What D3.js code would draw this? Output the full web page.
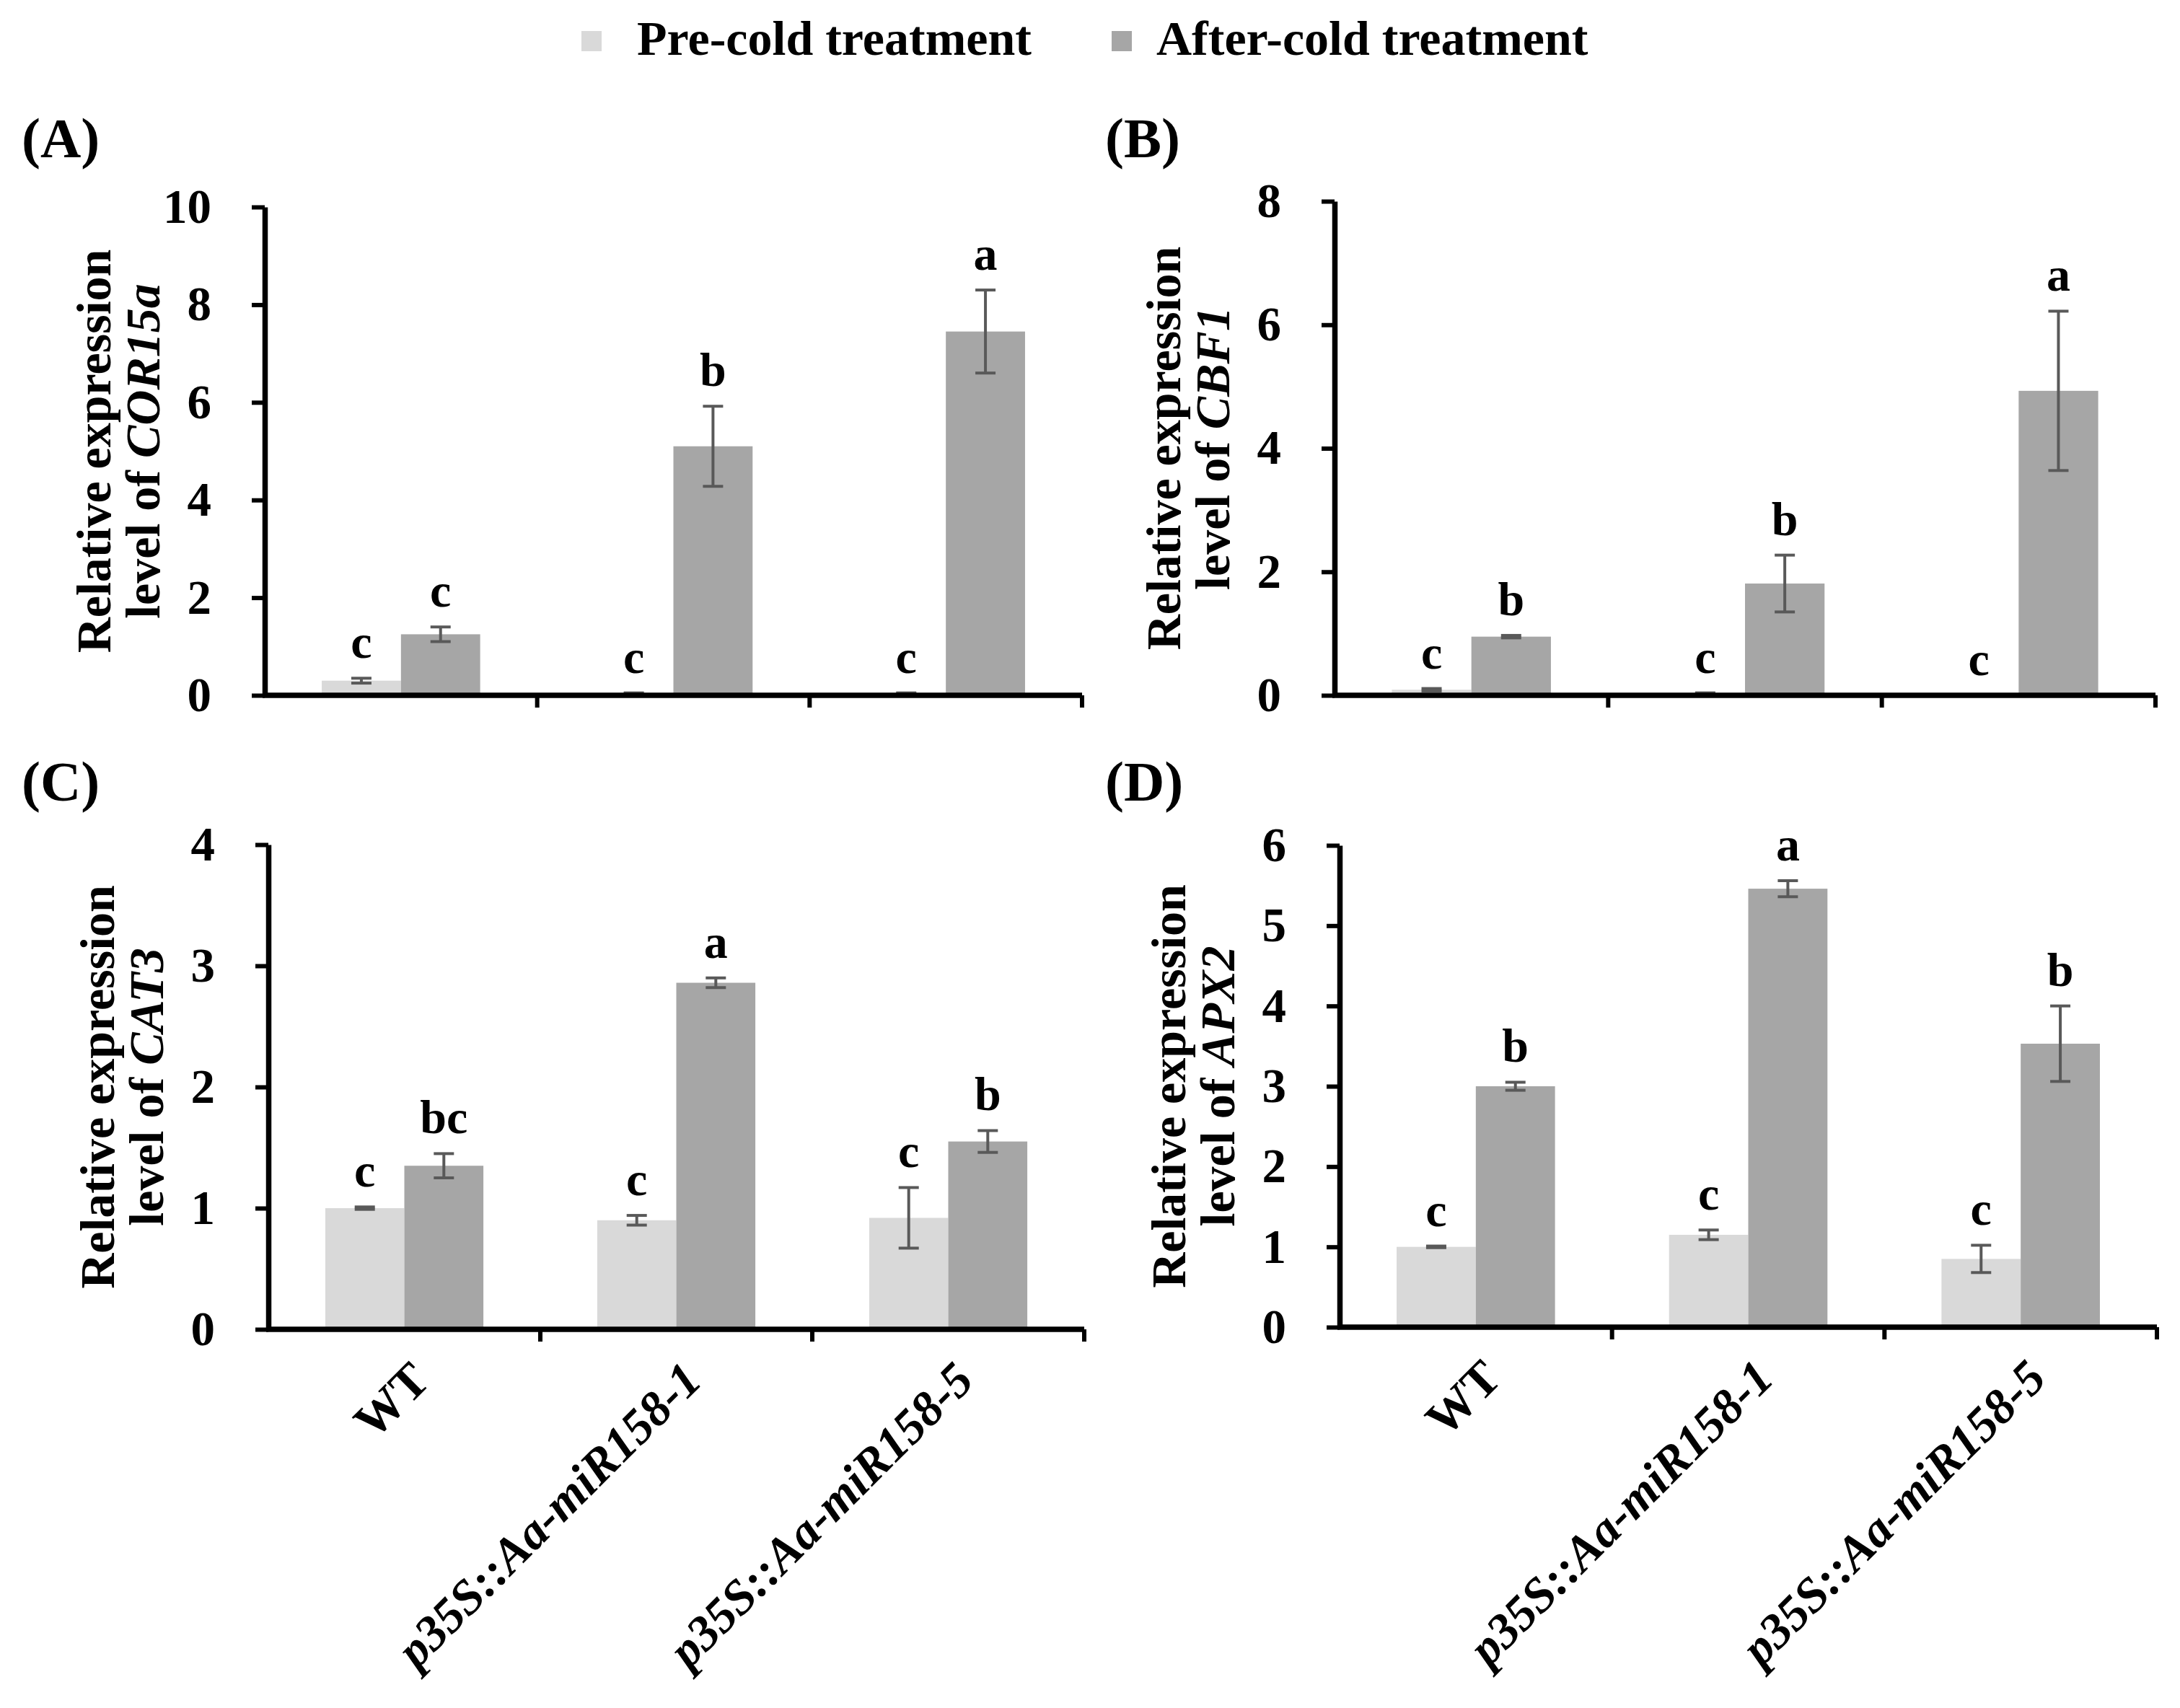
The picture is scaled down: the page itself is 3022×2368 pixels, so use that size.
<!DOCTYPE html>
<html>
<head>
<meta charset="utf-8">
<script src="https://cdn.jsdelivr.net/npm/d3@7"></script>
<style>
  body { margin: 0; background: #fff; }
</style>
</head>
<body>
<script>
// categories and series
var categories = ['WT', 'p35S::Aa-miR158-1', 'p35S::Aa-miR158-5']
var series = ['Pre-cold treatment', 'After-cold treatment']
var colors = ['#d9d9d9', '#a6a6a6']

// (A) COR15a
var corPre = [0.30, 0.04, 0.04]
var corPreErr = [0.05, 0.01, 0.01]
var corAfter = [1.25, 5.10, 7.45]
var corAfterErr = [0.15, 0.82, 0.85]
var corPreLetters = ['c', 'c', 'c']
var corAfterLetters = ['c', 'b', 'a']
var corTicks = [0, 2, 4, 6, 8, 10]

// (B) CBF1
var cbfPre = [0.09, 0.03, 0.0]
var cbfPreErr = [0.02, 0.01, 0.0]
var cbfAfter = [0.95, 1.81, 4.93]
var cbfAfterErr = [0.02, 0.46, 1.29]
var cbfPreLetters = ['c', 'c', 'c']
var cbfAfterLetters = ['b', 'b', 'a']
var cbfTicks = [0, 2, 4, 6, 8]

// (C) CAT3
var catPre = [1.00, 0.90, 0.92]
var catPreErr = [0.01, 0.04, 0.25]
var catAfter = [1.35, 2.86, 1.55]
var catAfterErr = [0.10, 0.04, 0.09]
var catPreLetters = ['c', 'c', 'c']
var catAfterLetters = ['bc', 'a', 'b']
var catTicks = [0, 1, 2, 3, 4]

// (D) APX2
var apxPre = [1.00, 1.15, 0.85]
var apxPreErr = [0.01, 0.06, 0.17]
var apxAfter = [3.00, 5.46, 3.53]
var apxAfterErr = [0.05, 0.10, 0.47]
var apxPreLetters = ['c', 'c', 'c']
var apxAfterLetters = ['b', 'a', 'b']
var apxTicks = [0, 1, 2, 3, 4, 5, 6]

var panels = [
    { tag: '(A)', gene: 'COR15a', pre: corPre, preErr: corPreErr, after: corAfter, afterErr: corAfterErr,
      preL: corPreLetters, afterL: corAfterLetters, ticks: corTicks,
      x0: 367, x1: 1500, yTop: 287, yBot: 964, tagX: 30, tagY: 218, catLabels: false },
    { tag: '(B)', gene: 'CBF1', pre: cbfPre, preErr: cbfPreErr, after: cbfAfter, afterErr: cbfAfterErr,
      preL: cbfPreLetters, afterL: cbfAfterLetters, ticks: cbfTicks,
      x0: 1850, x1: 2988, yTop: 279, yBot: 964, tagX: 1532, tagY: 218, catLabels: false },
    { tag: '(C)', gene: 'CAT3', pre: catPre, preErr: catPreErr, after: catAfter, afterErr: catAfterErr,
      preL: catPreLetters, afterL: catAfterLetters, ticks: catTicks,
      x0: 372, x1: 1503, yTop: 1171, yBot: 1843, tagX: 30, tagY: 1110, catLabels: true },
    { tag: '(D)', gene: 'APX2', pre: apxPre, preErr: apxPreErr, after: apxAfter, afterErr: apxAfterErr,
      preL: apxPreLetters, afterL: apxAfterLetters, ticks: apxTicks,
      x0: 1857, x1: 2990, yTop: 1172, yBot: 1840, tagX: 1532, tagY: 1110, catLabels: true }
]

var svg = d3.select('body').append('svg')
    .attr('width', 3022)
    .attr('height', 2368)
    .style('font-family', "'Liberation Serif', 'Times New Roman', serif")
    .style('font-weight', 'bold')

// legend
var legend = svg.append('g')
var legRectX = [806, 1541]
var legTextX = [883, 1603]
series.forEach(function (s, i) {
    legend.append('rect')
        .attr('x', legRectX[i]).attr('y', 43)
        .attr('width', 28).attr('height', 28)
        .attr('fill', colors[i])
    legend.append('text')
        .attr('x', legTextX[i]).attr('y', 76)
        .attr('font-size', 68)
        .text(s)
})

panels.forEach(function (p) {
    var g = svg.append('g')
    var x = d3.scaleBand().domain(categories).range([p.x0, p.x1])
    var xs = d3.scaleBand().domain(series).range([0, x.step()]).paddingOuter(0.72)
    var y = d3.scaleLinear().domain([0, d3.max(p.ticks)]).range([p.yBot, p.yTop])

    var rows = []
    categories.forEach(function (c, j) {
        rows.push({ c: c, s: series[0], v: p.pre[j], e: p.preErr[j], l: p.preL[j], col: colors[0] })
        rows.push({ c: c, s: series[1], v: p.after[j], e: p.afterErr[j], l: p.afterL[j], col: colors[1] })
    })

    // bars
    g.selectAll('rect.bar')
        .data(rows)
        .enter().append('rect')
        .attr('class', 'bar')
        .attr('x', function (d) { return x(d.c) + xs(d.s) })
        .attr('y', function (d) { return y(d.v) })
        .attr('width', xs.bandwidth())
        .attr('height', function (d) { return y(0) - y(d.v) })
        .attr('fill', function (d) { return d.col })

    // error bars
    var eb = g.selectAll('g.err')
        .data(rows.filter(function (d) { return d.e > 0 }))
        .enter().append('g')
        .attr('class', 'err')
        .attr('stroke', '#595959')
        .attr('stroke-width', 4)
    var cx = function (d) { return x(d.c) + xs(d.s) + xs.bandwidth() / 2 }
    eb.append('line')
        .attr('x1', cx).attr('x2', cx)
        .attr('y1', function (d) { return y(d.v + d.e) })
        .attr('y2', function (d) { return y(Math.max(0, d.v - d.e)) })
    eb.append('line')
        .attr('x1', function (d) { return cx(d) - 14 }).attr('x2', function (d) { return cx(d) + 14 })
        .attr('y1', function (d) { return y(d.v + d.e) }).attr('y2', function (d) { return y(d.v + d.e) })
    eb.append('line')
        .attr('x1', function (d) { return cx(d) - 14 }).attr('x2', function (d) { return cx(d) + 14 })
        .attr('y1', function (d) { return y(Math.max(0, d.v - d.e)) }).attr('y2', function (d) { return y(Math.max(0, d.v - d.e)) })

    // significance letters
    g.selectAll('text.sig')
        .data(rows)
        .enter().append('text')
        .attr('class', 'sig')
        .attr('x', cx)
        .attr('y', function (d) { return y(d.v + d.e) - 28 })
        .attr('text-anchor', 'middle')
        .attr('font-size', 66)
        .text(function (d) { return d.l })

    // y axis
    var ya = g.append('g')
        .attr('transform', 'translate(' + p.x0 + ',0)')
        .call(d3.axisLeft(y).tickValues(p.ticks).tickFormat(d3.format('d'))
            .tickSize(18).tickSizeOuter(0).tickPadding(56))
    ya.attr('font-family', null).attr('font-size', 67)
    ya.select('.domain').attr('stroke', '#000').attr('stroke-width', 7.5)
    ya.selectAll('.tick line').attr('stroke', '#000').attr('stroke-width', 6)
    ya.selectAll('.tick text').attr('fill', '#000')

    // x axis with separators between categories
    g.append('line')
        .attr('x1', p.x0 - 3).attr('x2', p.x1)
        .attr('y1', y(0)).attr('y2', y(0))
        .attr('stroke', '#000').attr('stroke-width', 7.5)
    g.selectAll('line.sep')
        .data(categories)
        .enter().append('line')
        .attr('class', 'sep')
        .attr('x1', function (c) { return x(c) + x.step() }).attr('x2', function (c) { return x(c) + x.step() })
        .attr('y1', y(0)).attr('y2', y(0) + 17)
        .attr('stroke', '#000').attr('stroke-width', 6)

    // y axis title
    var midY = (p.yTop + p.yBot) / 2
    g.append('text')
        .attr('transform', 'translate(' + (p.x0 - 214) + ',' + midY + ') rotate(-90)')
        .attr('text-anchor', 'middle')
        .attr('font-size', 68)
        .text('Relative expression')
    var t2 = g.append('text')
        .attr('transform', 'translate(' + (p.x0 - 146) + ',' + midY + ') rotate(-90)')
        .attr('text-anchor', 'middle')
        .attr('font-size', 68)
    t2.append('tspan').text('level of ')
    t2.append('tspan').attr('font-style', 'italic').text(p.gene)

    // panel tag
    g.append('text')
        .attr('x', p.tagX).attr('y', p.tagY)
        .attr('font-size', 78)
        .text(p.tag)

    // category labels
    if (p.catLabels) {
        g.selectAll('text.cat')
            .data(categories)
            .enter().append('text')
            .attr('class', 'cat')
            .attr('transform', function (c) {
                return 'translate(' + (x(c) + x.bandwidth() / 2 + 22) + ',' + (y(0) + 58) + ') rotate(-45)'
            })
            .attr('text-anchor', 'end')
            .attr('dominant-baseline', 'central')
            .attr('font-size', 68)
            .attr('font-style', function (c) { return c === 'WT' ? 'normal' : 'italic' })
            .text(function (c) { return c })
    }
})
</script>
</body>
</html>
